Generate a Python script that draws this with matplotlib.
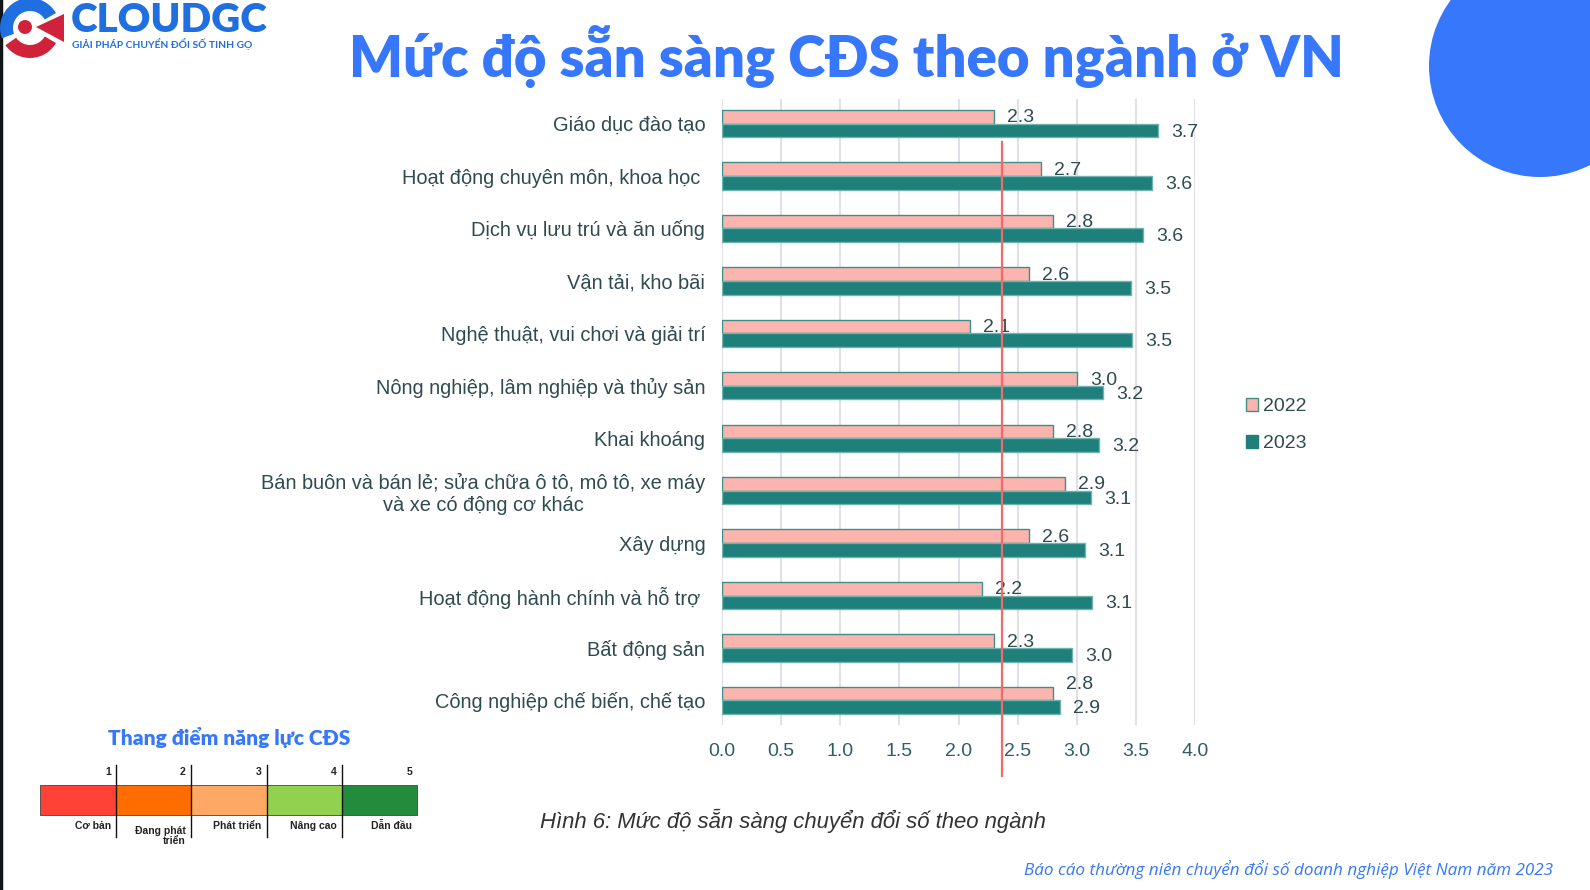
import matplotlib
matplotlib.use("Agg")
import matplotlib.pyplot as plt
from matplotlib.patches import Circle, Rectangle, Wedge, Polygon, Patch
import numpy as np

# Data
categories = [
    "Giáo dục đào tạo",
    "Hoạt động chuyên môn, khoa học ",
    "Dịch vụ lưu trú và ăn uống",
    "Vận tải, kho bãi",
    "Nghệ thuật, vui chơi và giải trí",
    "Nông nghiệp, lâm nghiệp và thủy sản",
    "Khai khoáng",
    "Bán buôn và bán lẻ; sửa chữa ô tô, mô tô, xe máy\nvà xe có động cơ khác",
    "Xây dựng",
    "Hoạt động hành chính và hỗ trợ ",
    "Bất động sản",
    "Công nghiệp chế biến, chế tạo",
]
values_2022 = [2.3, 2.7, 2.8, 2.6, 2.1, 3.0, 2.8, 2.9, 2.6, 2.2, 2.3, 2.8]
values_2023 = [3.69, 3.64, 3.56, 3.46, 3.47, 3.22, 3.19, 3.12, 3.07, 3.13, 2.96, 2.86]
series_names = ["2022", "2023"]
x_ticks = [0.0, 0.5, 1.0, 1.5, 2.0, 2.5, 3.0, 3.5, 4.0]
avg_line = 2.37

scale_levels = ["1", "2", "3", "4", "5"]
scale_names = ["Cơ bản", "Đang phát\ntriển", "Phát triển", "Nâng cao", "Dẫn đầu"]
scale_colors = ["#ff4136", "#ff6d00", "#ffa865", "#92d050", "#238b3c"]

# Styles
W, H = 1590, 890
blue = "#3677fb"
logo_blue = "#1f6fe0"
pink = "#fbb4ae"
teal = "#1f7f7a"
txt = "#2f4b50"

plt.rcParams["font.family"] = ["Liberation Sans", "DejaVu Sans"]

fig = plt.figure(figsize=(W / 100, H / 100), dpi=100)
fig.patch.set_facecolor("white")

# background layer in pixel coordinates
bg = fig.add_axes([0, 0, 1, 1], zorder=0)
bg.set_xlim(0, W)
bg.set_ylim(H, 0)
bg.axis("off")
bg.add_patch(Circle((1540, 66), 111, color=blue, lw=0))
bg.plot([1, 1], [0, H], color="#111418", lw=2.5)

# main chart
ax = fig.add_axes([722 / W, 1 - 725 / H, (1195 - 722) / W, (725 - 99) / H], zorder=2)
ax.patch.set_alpha(0)
y = np.arange(len(categories))
h = 0.26
ax.barh(y - h / 2, values_2022, height=h, color=pink, edgecolor="#3f8f89", lw=1, zorder=3)
ax.barh(y + h / 2, values_2023, height=h, color=teal, edgecolor="#6fb3ae", lw=1, zorder=3)
for i in range(len(categories)):
    # last group: lift the 2022 label so it does not sit on the 2023 one
    lift = 0.18 if i == len(categories) - 1 else -0.02
    ax.text(values_2022[i] + 0.11, y[i] - h / 2 - lift, f"{values_2022[i]:.1f}",
            ha="left", va="center", fontsize=14, color=txt, zorder=4)
    ax.text(values_2023[i] + 0.11, y[i] + h / 2 + 0.03, f"{values_2023[i]:.1f}",
            ha="left", va="center", fontsize=14, color=txt, zorder=4)

ax.set_xlim(0, 4.0)
ax.set_ylim(len(categories) - 0.53, -0.47)
ax.set_xticks(x_ticks)
ax.set_xticklabels([f"{t:.1f}" for t in x_ticks], fontsize=14, color="#2f5f66")
ax.set_yticks(y)
ax.set_yticklabels(categories, fontsize=14.4, color=txt)
for lbl in ax.get_yticklabels():
    lbl.set_multialignment("center")
ax.tick_params(axis="y", length=0, pad=12)
ax.tick_params(axis="x", length=0, pad=13)
ax.grid(axis="x", color="#dedde6", lw=1.3, zorder=0)
ax.set_axisbelow(True)
for s in ax.spines.values():
    s.set_visible(False)
ax.axvline(avg_line, ymin=-0.081, ymax=0.931, color="#f26a6a", lw=1.6, clip_on=False, zorder=5)

handles = [Patch(facecolor=pink, edgecolor="#3f8f89"), Patch(facecolor=teal, edgecolor=teal)]
leg = fig.legend(handles, series_names, loc="center left", bbox_to_anchor=(1228 / W, 1 - 425 / H),
                 frameon=False, fontsize=14, handlelength=0.65, handleheight=0.65,
                 handletextpad=0.25, labelspacing=1.0)
for t in leg.get_texts():
    t.set_color(txt)

# title
fig.text(846 / W, 1 - 56 / H, "Mức độ sẵn sàng CĐS theo ngành ở VN", ha="center", va="center",
         fontsize=40.5, fontweight="heavy", color=blue, family=["Lato", "DejaVu Sans"])

# logo
lg = fig.add_axes([0, 1 - 62 / H, 64 / W, 62 / H], zorder=3)
lg.set_xlim(0, 64)
lg.set_ylim(0, 62)
lg.axis("off")
lg.add_patch(Wedge((30, 34), 30, 30, 200, width=13, color="#1f6fe0", lw=0))
lg.add_patch(Wedge((30, 34), 30, 215, 330, width=13, color="#d0223a", lw=0))
lg.add_patch(Circle((25, 35), 7, color="#d0223a", lw=0))
lg.add_patch(Polygon([(36, 35), (64, 48), (64, 20)], color="#d0223a", lw=0))
fig.text(71 / W, 1 - 20 / H, "CLOUDGC", ha="left", va="center", fontsize=29,
         fontweight="heavy", color=logo_blue, family=["Lato", "DejaVu Sans"])
fig.text(72 / W, 1 - 44 / H, "GIẢI PHÁP CHUYỂN ĐỔI SỐ TINH GỌ", ha="left", va="center",
         fontsize=7.4, fontweight="bold", color=logo_blue, family=["Lato", "DejaVu Sans"])

# scale legend
fig.text(229 / W, 1 - 737 / H, "Thang điểm năng lực CĐS", ha="center", va="center",
         fontsize=15, fontweight="heavy", color=blue, family=["Lato", "DejaVu Sans"])
edges = [40, 115.7, 190.7, 266.7, 342, 417]
for k in range(len(scale_levels)):
    bg.add_patch(Rectangle((edges[k], 785), edges[k + 1] - edges[k], 30,
                           facecolor=scale_colors[k], edgecolor="#444444", lw=0.6))
    bg.text(edges[k + 1] - 5, 772, scale_levels[k], ha="right", va="center",
            fontsize=7.5, fontweight="bold", color="#222222")
    bg.text(edges[k + 1] - 5, 826, scale_names[k], ha="right",
            va="top" if "\n" in scale_names[k] else "center",
            fontsize=7.5, fontweight="bold", color="#222222", linespacing=1.0)
for e in edges[1:-1]:
    bg.plot([e, e], [765, 837], color="#111111", lw=1)

# caption and footer
fig.text(793 / W, 1 - 821 / H, "Hình 6: Mức độ sẵn sàng chuyển đổi số theo ngành", ha="center",
         va="center", fontsize=15.9, style="italic", color="#333333")
fig.text(1553 / W, 1 - 870 / H, "Báo cáo thường niên chuyển đổi số doanh nghiệp Việt Nam năm 2023",
         ha="right", va="center", fontsize=12.3, style="italic", color=blue,
         family=["Open Sans", "DejaVu Sans"])

fig.savefig("out.png", dpi=100, facecolor="white")
